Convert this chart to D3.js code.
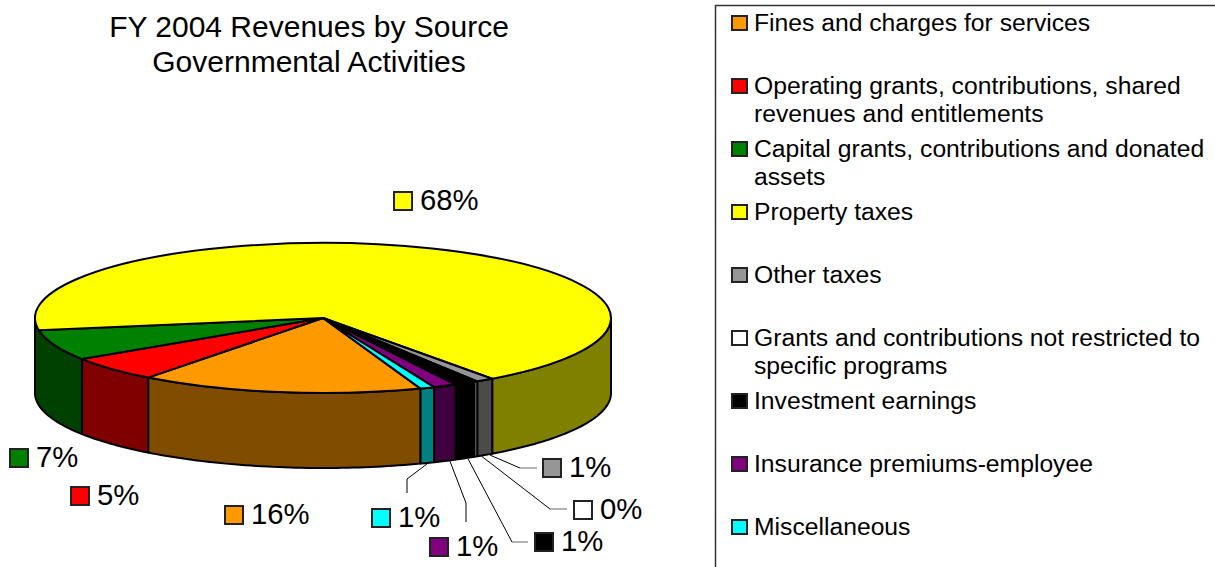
<!DOCTYPE html>
<html>
<head>
<meta charset="utf-8">
<style>
  html, body { margin: 0; padding: 0; background: #fff; }
  svg { display: block; }
  text { font-family: "Liberation Sans", Arial, sans-serif; fill: #000; }
</style>
<script src="https://cdn.jsdelivr.net/npm/d3@7"></script>
</head>
<body>
<svg id="chart" width="1215" height="567"></svg>
<script>
// Revenue sources, in legend order
const categories = [
  ["Fines and charges for services"],
  ["Operating grants, contributions, shared", "revenues and entitlements"],
  ["Capital grants, contributions and donated", "assets"],
  ["Property taxes"],
  ["Other taxes"],
  ["Grants and contributions not restricted to", "specific programs"],
  ["Investment earnings"],
  ["Insurance premiums-employee"],
  ["Miscellaneous"]
];
const shares = [15.9, 5.4, 6.6, 67.7, 1.0, 0.2, 1.2, 1.3, 0.8];
const colours = ["#FF9900", "#FF0000", "#008000", "#FFFF00", "#969696", "#FFFFFF", "#000000", "#800080", "#00FFFF"];
const titleLines = ["FY 2004 Revenues by Source", "Governmental Activities"];

// Layout of the pie disc
const cx = 323, cy = 318, rx = 288, ry = 75, depth = 75;
const startDeg = 160.2;

// Data label placement: swatch left/top, optional leader line knee and end
const labelSpots = [
  { x: 224, y: 505 },
  { x: 70, y: 486 },
  { x: 9, y: 448 },
  { x: 393, y: 191 },
  { x: 542, y: 458, leader: [[520, 468], [537, 468]], tip: 490 },
  { x: 573, y: 500, leader: [[550, 509], [567, 509]], tip: 482 },
  { x: 534, y: 532, leader: [[512, 542], [528, 542]], tip: 468 },
  { x: 429, y: 537, leader: [[466, 503], [466, 522]], tip: 450 },
  { x: 371, y: 508, leader: [[407, 479], [407, 493]], tip: 427 }
];
const legendBaselines = [31, 94, 157, 220, 283, 346, 409, 472, 535];

const svg = d3.select("#chart");
const total = d3.sum(shares);
const pct = d3.format(".0%");
const TAU = 2 * Math.PI;
const start = startDeg * Math.PI / 180;

const slices = d3.pie().sort(null).startAngle(start).endAngle(start + TAU)(shares);

const px = a => cx + rx * Math.sin(a);
const py = a => cy - ry * Math.cos(a);

// Half-brightness shade for the rim of the disc
const shade = c => { const k = d3.rgb(c); return d3.rgb(k.r / 2, k.g / 2, k.b / 2).formatHex(); };

// The visible rim runs from 90deg (right extreme) to 270deg (left extreme).
// A slice crossing the back keeps only its later, right-hand stretch; the
// slice ending just short of the left extreme carries the rim up to it.
const lo = Math.PI / 2, hi = 1.5 * Math.PI;
function rimRange(s) {
  const k = s.endAngle > TAU ? TAU : 0;
  let a0 = Math.max(s.startAngle, lo + k);
  let a1 = Math.min(s.endAngle, hi + k);
  if (a1 < hi + k && a1 > hi + k - 0.2) a1 = hi + k;
  return [a0, a1];
}

const line = d3.line();
const rim = svg.append("g");
slices.forEach((s, i) => {
  const [a0, a1] = rimRange(s);
  if (a1 <= a0) return;
  const steps = Math.max(2, Math.ceil((a1 - a0) / 0.02));
  const arc = d3.range(steps + 1).map(k => a0 + (a1 - a0) * k / steps);
  const pts = arc.map(a => [px(a), py(a)])
    .concat(arc.slice().reverse().map(a => [px(a), py(a) + depth]));
  rim.append("path")
    .attr("d", line(pts) + "Z")
    .attr("fill", shade(colours[i]))
    .attr("stroke", "#000")
    .attr("stroke-width", 2)
    .attr("stroke-linejoin", "round");
});

// Top face: a circular pie squashed into an ellipse
const arcGen = d3.arc().innerRadius(0).outerRadius(rx);
svg.append("g")
  .attr("transform", `translate(${cx},${cy}) scale(1,${ry / rx})`)
  .selectAll("path")
  .data(slices)
  .join("path")
  .attr("d", arcGen)
  .attr("fill", (d, i) => colours[i])
  .attr("stroke", "#000")
  .attr("stroke-width", 2)
  .attr("stroke-linejoin", "round")
  .attr("vector-effect", "non-scaling-stroke");

// Leader lines from the rim's lower edge to the outlying labels
slices.forEach((s, i) => {
  const spot = labelSpots[i];
  if (!spot.leader) return;
  const tipX = spot.tip;
  const tipY = cy + depth + ry * Math.sqrt(1 - ((tipX - cx) / rx) ** 2) + 1;
  const knee = spot.leader;
  svg.append("path")
    .attr("d", line([[tipX, tipY], knee[0]]))
    .attr("fill", "none").attr("stroke", "#000").attr("stroke-width", 1);
  svg.append("path")
    .attr("d", line(knee))
    .attr("fill", "none")
    .attr("stroke", knee[0][1] === knee[1][1] ? "#666" : "#000")
    .attr("stroke-width", 1);
});

// Data labels
slices.forEach((s, i) => {
  const spot = labelSpots[i];
  svg.append("rect")
    .attr("x", spot.x + 1).attr("y", spot.y + 1)
    .attr("width", 18).attr("height", 18)
    .attr("fill", colours[i]).attr("stroke", "#222").attr("stroke-width", 2);
  svg.append("text")
    .attr("x", spot.x + 27).attr("y", spot.y + 19)
    .attr("font-size", 29.3)
    .text(pct(shares[i] / total));
});

// Title
svg.append("g").selectAll("text")
  .data(titleLines)
  .join("text")
  .attr("x", 309)
  .attr("y", (d, i) => 37 + i * 35)
  .attr("text-anchor", "middle")
  .attr("font-size", 30)
  .text(d => d);

// Legend frame runs off the right and bottom edges
svg.append("path")
  .attr("d", line([[715.5, 567], [715.5, 5.5], [1215, 5.5]]))
  .attr("fill", "none").attr("stroke", "#333").attr("stroke-width", 1.5);

categories.forEach((lines, i) => {
  const y = legendBaselines[i];
  svg.append("rect")
    .attr("x", 732).attr("y", y - 15)
    .attr("width", 15).attr("height", 14)
    .attr("fill", colours[i]).attr("stroke", "#222").attr("stroke-width", 2);
  lines.forEach((t, j) => {
    svg.append("text")
      .attr("x", 754).attr("y", y + j * 28)
      .attr("font-size", 24.7)
      .text(t);
  });
});
</script>
</body>
</html>
